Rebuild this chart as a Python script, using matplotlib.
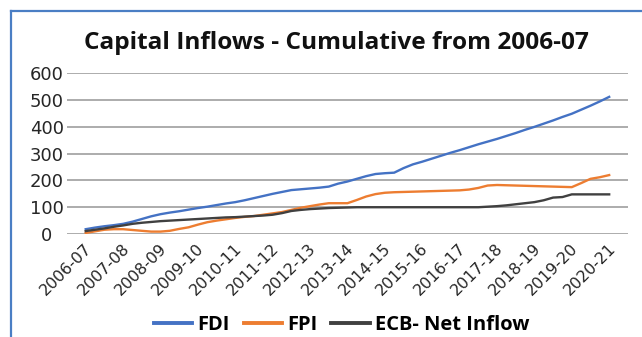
import matplotlib
matplotlib.use("Agg")
import matplotlib.pyplot as plt
import matplotlib.transforms as mtransforms
from matplotlib.lines import Line2D
import numpy as np

# fiscal year labels (one per category)
years = ["2006-07", "2007-08", "2008-09", "2009-10", "2010-11", "2011-12",
         "2012-13", "2013-14", "2014-15", "2015-16", "2016-17", "2017-18",
         "2018-19", "2019-20", "2020-21"]

# quarterly cumulative values (4 points per year)
fdi = [18, 24, 29, 33, 38, 46, 56, 66, 74, 80, 85, 91, 97, 102, 108, 114,
       119, 126, 134, 142, 150, 157, 164, 167, 170, 173, 177, 188, 196, 206,
       216, 224, 227, 229, 246, 260, 270, 281, 292, 303, 313, 324, 335, 345,
       355, 366, 377, 389, 400, 412, 424, 437, 449, 464, 479, 495, 512]
fpi = [4, 10, 16, 18, 18, 15, 12, 9, 9, 12, 19, 25, 35, 44, 50, 55,
       60, 64, 67, 72, 77, 82, 90, 98, 104, 110, 115, 115, 115, 127,
       140, 149, 154, 156, 157, 158, 159, 160, 161, 162, 163, 166, 172, 181,
       183, 182, 181, 180, 179, 178, 177, 176, 175, 190, 206, 212, 220]
ecb = [11, 16, 21, 27, 32, 38, 42, 45, 48, 50, 52, 54, 56, 58, 60, 62,
       63, 65, 67, 69, 72, 78, 86, 90, 93, 95, 97, 98, 99, 100,
       100, 100, 100, 100, 100, 100, 100, 100, 100, 100, 100, 100, 100, 102,
       104, 107, 111, 115, 119, 126, 136, 138, 148, 148, 148, 148, 148]

x = np.arange(len(fdi)) / 4.0

fig = plt.figure(figsize=(6.42, 3.37), dpi=100)
ax = fig.add_axes([0.1044, 0.3056, 0.8736, 0.4769])

ax.plot(x, fdi, color="#4472C4", lw=1.7, label="FDI")
ax.plot(x, fpi, color="#ED7D31", lw=1.7, label="FPI")
ax.plot(x, ecb, color="#404040", lw=1.7, label="ECB- Net Inflow")

ax.set_xlim(-0.5, 14.5)
ax.set_ylim(0, 600)
ax.set_yticks(range(0, 601, 100))
ax.set_xticks(range(len(years)))
ax.set_xticklabels(years, rotation=45, ha="right", va="top",
                   rotation_mode="anchor", fontsize=11.4,
                   family="DejaVu Sans", color="#262626")

ax.grid(axis="y", color="#a6a6a6", lw=1.3)
ax.set_axisbelow(True)
for s in ax.spines.values():
    s.set_visible(False)
ax.tick_params(axis="both", length=0, colors="#262626")
ax.tick_params(axis="x", pad=5)
ax.tick_params(axis="y", pad=14.5)

# y labels look centred in the reference
for lbl in ax.get_yticklabels():
    lbl.set_fontsize(13)
    lbl.set_family("DejaVu Sans")
    lbl.set_horizontalalignment("center")
shift = mtransforms.ScaledTranslation(-1.5 / 100, 0, fig.dpi_scale_trans)
for lbl in ax.get_xticklabels():
    lbl.set_transform(lbl.get_transform() + shift)

fig.text(0.524, 0.872, "Capital Inflows - Cumulative from 2006-07",
         ha="center", va="center", fontsize=17.6, fontweight="bold",
         family="Open Sans", color="#111111")

leg = fig.legend(loc="center", bbox_to_anchor=(0.532, 0.035), ncol=3,
                 frameon=False, handlelength=1.9, handletextpad=0.25,
                 columnspacing=0.7,
                 prop={"family": "Open Sans", "weight": "bold", "size": 14.5})
for h in leg.get_lines():
    h.set_linewidth(2.8)

# blue frame around the chart (left and top edges only are visible)
fig.add_artist(Line2D([11 / 642, 11 / 642], [0, 1 - 11 / 337], color="#4a7ec4", lw=1.6))
fig.add_artist(Line2D([11 / 642, 1], [1 - 11 / 337, 1 - 11 / 337], color="#4a7ec4", lw=1.6))

fig.savefig("out.png", dpi=100, facecolor="white")
